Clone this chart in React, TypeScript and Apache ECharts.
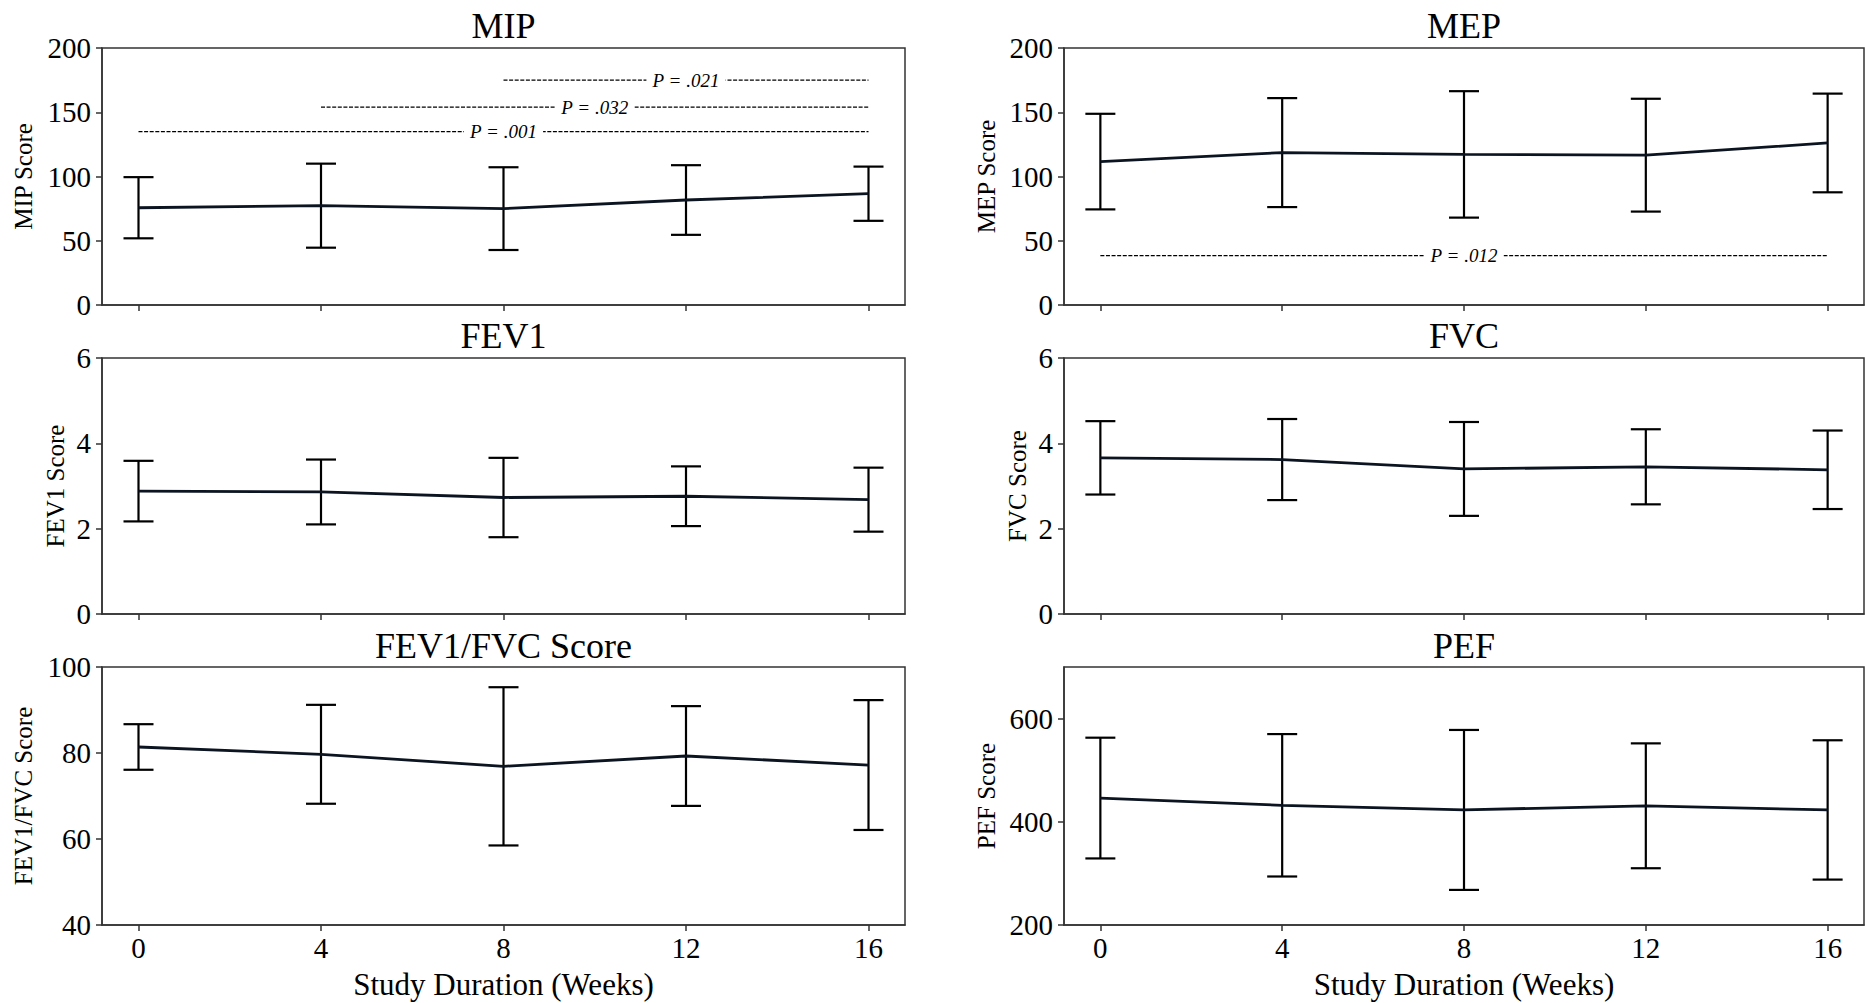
import React, { useEffect, useRef } from "react";
import * as echarts from "echarts";

// ---- data ----
const weeks = [0, 4, 8, 12, 16];
const xTickValues = [0, 4, 8, 12, 16];

const mipMean = [75.7, 77.3, 75.0, 81.7, 86.6];
const mipSd = [23.8, 32.7, 32.2, 27.1, 21.1];
const mipPLines = [
  [0, 16, 135],
  [4, 16, 154],
  [8, 16, 175],
];
const mipPLabels = ["P = .001", "P = .032", "P = .021"];

const mepMean = [111.6, 118.6, 117.2, 116.6, 126.1];
const mepSd = [37.2, 42.4, 49.2, 43.9, 38.4];
const mepPLines = [[0, 16, 38.5]];
const mepPLabels = ["P = .012"];

const fev1Mean = [2.88, 2.86, 2.73, 2.76, 2.68];
const fev1Sd = [0.71, 0.76, 0.93, 0.70, 0.75];

const fvcMean = [3.66, 3.62, 3.40, 3.45, 3.38];
const fvcSd = [0.86, 0.95, 1.10, 0.88, 0.92];

const ratioMean = [81.4, 79.7, 76.9, 79.3, 77.2];
const ratioSd = [5.3, 11.5, 18.4, 11.6, 15.1];

const pefMean = [446, 432, 423, 431, 423];
const pefSd = [117, 138, 155, 121, 135];

const mipTicks = [0, 50, 100, 150, 200];
const fevTicks = [0, 2, 4, 6];
const ratioTicks = [40, 60, 80, 100];
const pefTicks = [200, 400, 600];

// ---- layout ----
const FONT = '"Liberation Serif", "Times New Roman", serif';
const COLS = [
  { left: 102, width: 803 },
  { left: 1064, width: 800 },
];
const ROWS = [
  { top: 48, height: 257, titleY: 26 },
  { top: 358, height: 256, titleY: 336 },
  { top: 667, height: 258, titleY: 646 },
];

type Panel = {
  title: string;
  yName: string;
  mean: number[];
  sd: number[];
  min: number;
  max: number;
  ticks: number[];
  nameGap: number;
  row: number;
  col: number;
  pLines?: number[][];
  pLabels?: string[];
};

const panels: Panel[] = [
  { title: "MIP", yName: "MIP Score", mean: mipMean, sd: mipSd, min: 0, max: 200, ticks: mipTicks, nameGap: 66, row: 0, col: 0, pLines: mipPLines, pLabels: mipPLabels },
  { title: "MEP", yName: "MEP Score", mean: mepMean, sd: mepSd, min: 0, max: 200, ticks: mipTicks, nameGap: 65, row: 0, col: 1, pLines: mepPLines, pLabels: mepPLabels },
  { title: "FEV1", yName: "FEV1 Score", mean: fev1Mean, sd: fev1Sd, min: 0, max: 6, ticks: fevTicks, nameGap: 34, row: 1, col: 0 },
  { title: "FVC", yName: "FVC Score", mean: fvcMean, sd: fvcSd, min: 0, max: 6, ticks: fevTicks, nameGap: 34, row: 1, col: 1 },
  { title: "FEV1/FVC Score", yName: "FEV1/FVC Score", mean: ratioMean, sd: ratioSd, min: 40, max: 100, ticks: ratioTicks, nameGap: 66, row: 2, col: 0 },
  { title: "PEF", yName: "PEF Score", mean: pefMean, sd: pefSd, min: 200, max: 700, ticks: pefTicks, nameGap: 65, row: 2, col: 1 },
];

const AXIS_COLOR = "#333";

function buildOption() {
  const grid: any[] = [];
  const xAxis: any[] = [];
  const yAxis: any[] = [];
  const series: any[] = [];
  const title: any[] = [];

  panels.forEach((p, i) => {
    const c = COLS[p.col];
    const r = ROWS[p.row];
    grid.push({
      left: c.left,
      top: r.top,
      width: c.width,
      height: r.height,
      show: true,
      borderColor: AXIS_COLOR,
      borderWidth: 1.5,
      backgroundColor: "#fff",
      containLabel: false,
    });
    title.push({
      text: p.title,
      left: c.left + c.width / 2,
      top: r.titleY,
      textAlign: "center",
      textVerticalAlign: "middle",
      padding: 0,
      textStyle: { fontFamily: FONT, fontSize: 36, fontWeight: "normal", color: "#000" },
    });
    const bottomRow = p.row === 2;
    xAxis.push({
      type: "value",
      gridIndex: i,
      min: -0.8,
      max: 16.8,
      splitLine: { show: false },
      axisLine: { show: true, onZero: false, lineStyle: { color: AXIS_COLOR, width: 1.5 } },
      axisTick: { show: true, length: 6, lineStyle: { color: AXIS_COLOR, width: 1.5 }, customValues: xTickValues },
      axisLabel: {
        show: bottomRow,
        customValues: xTickValues,
        fontFamily: FONT,
        fontSize: 29,
        color: "#000",
        margin: 8,
      },
      name: bottomRow ? "Study Duration (Weeks)" : "",
      nameLocation: "middle",
      nameGap: 44,
      nameTextStyle: { fontFamily: FONT, fontSize: 31, color: "#000" },
    });
    yAxis.push({
      type: "value",
      gridIndex: i,
      min: p.min,
      max: p.max,
      splitLine: { show: false },
      axisLine: { show: true, onZero: false, lineStyle: { color: AXIS_COLOR, width: 1.5 } },
      axisTick: { show: true, length: 6, lineStyle: { color: AXIS_COLOR, width: 1.5 }, customValues: p.ticks },
      axisLabel: {
        customValues: p.ticks,
        fontFamily: FONT,
        fontSize: 29,
        color: "#000",
        margin: 11,
      },
      name: p.yName,
      nameLocation: "middle",
      nameRotate: 90,
      nameGap: p.nameGap,
      nameTextStyle: { fontFamily: FONT, fontSize: 25, color: "#000" },
    });

    const errData = weeks.map((w, k) => [w, p.mean[k] - p.sd[k], p.mean[k] + p.sd[k]]);
    series.push({
      type: "custom",
      xAxisIndex: i,
      yAxisIndex: i,
      data: errData,
      encode: { x: 0, y: [1, 2] },
      z: 3,
      renderItem: (params: any, api: any) => {
        const x = api.value(0);
        const lo = api.coord([x, api.value(1)]);
        const hi = api.coord([x, api.value(2)]);
        const w = 15;
        const st = { stroke: "#000", lineWidth: 2.2 };
        return {
          type: "group",
          children: [
            { type: "line", shape: { x1: lo[0], y1: lo[1], x2: hi[0], y2: hi[1] }, style: st },
            { type: "line", shape: { x1: lo[0] - w, y1: lo[1], x2: lo[0] + w, y2: lo[1] }, style: st },
            { type: "line", shape: { x1: hi[0] - w, y1: hi[1], x2: hi[0] + w, y2: hi[1] }, style: st },
          ],
        };
      },
    });
    series.push({
      type: "line",
      xAxisIndex: i,
      yAxisIndex: i,
      data: weeks.map((w, k) => [w, p.mean[k]]),
      symbol: "none",
      z: 4,
      lineStyle: { color: "#0b1420", width: 2.8 },
    });

    if (p.pLines && p.pLabels) {
      const labels = p.pLabels;
      series.push({
        type: "custom",
        xAxisIndex: i,
        yAxisIndex: i,
        data: p.pLines,
        encode: { x: [0, 1], y: 2 },
        z: 5,
        renderItem: (params: any, api: any) => {
          const a = api.coord([api.value(0), api.value(2)]);
          const b = api.coord([api.value(1), api.value(2)]);
          return {
            type: "group",
            children: [
              {
                type: "line",
                shape: { x1: a[0], y1: a[1], x2: b[0], y2: b[1] },
                style: { stroke: "#000", lineWidth: 1.3, lineDash: [4, 1.6] },
              },
              {
                type: "text",
                x: (a[0] + b[0]) / 2,
                y: a[1],
                style: {
                  text: labels[params.dataIndex],
                  fontFamily: FONT,
                  fontSize: 19,
                  fontStyle: "italic",
                  fill: "#000",
                  align: "center",
                  verticalAlign: "middle",
                  backgroundColor: "#fff",
                  padding: [0, 6],
                },
              },
            ],
          };
        },
      });
    }
  });

  return {
    animation: false,
    backgroundColor: "#fff",
    title,
    grid,
    xAxis,
    yAxis,
    series,
  };
}

export default function App() {
  const ref = useRef<HTMLDivElement>(null);
  useEffect(() => {
    if (!ref.current) return;
    const chart = echarts.init(ref.current, null, { renderer: "svg" });
    chart.setOption(buildOption() as any);
    return () => chart.dispose();
  }, []);
  return (
    <div
      ref={ref}
      style={{ position: "fixed", left: 0, top: 0, width: 1865, height: 1003, background: "#fff" }}
    />
  );
}
